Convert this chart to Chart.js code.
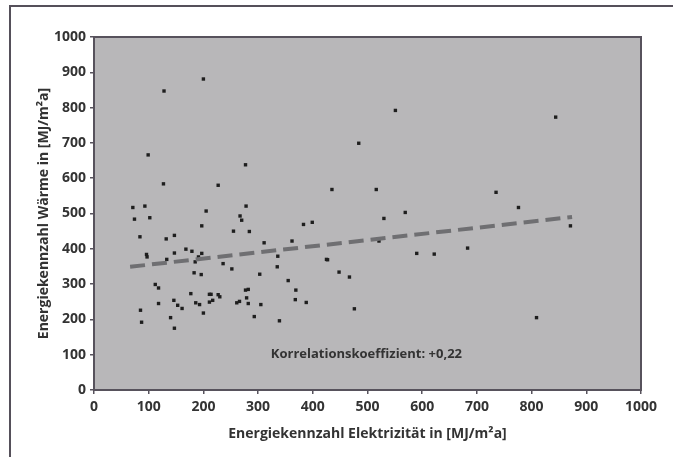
<!DOCTYPE html>
<html>
<head>
<meta charset="utf-8">
<script src="https://cdn.jsdelivr.net/npm/chart.js@4.4.1/dist/chart.umd.min.js"></script>
<style>
  html, body { margin: 0; padding: 0; background: #ffffff; }
  #wrap { width: 673px; height: 457px; position: relative; }
</style>
</head>
<body>
<div id="wrap"><canvas id="c" width="673" height="457"></canvas></div>
<script>
// Energiekennzahl Elektrizität [MJ/m²a]
const elecX = [200,128,99,277,127,227,71,93,278,74,102,205,267,270,197,84,132,147,255,284,
  311,168,179,147,197,96,97,133,191,185,336,236,252,335,183,196,303,112,118,355,
  177,211,214,227,230,277,282,279,146,118,153,161,186,193,211,217,261,266,282,305,
  85,200,140,87,293,147,339,362,369,368,388,383,399,425,427,448,467,476,521,530,
  569,590,622,683,551,484,435,516,844,735,776,871,809];
// Energiekennzahl Wärme [MJ/m²a]
const heatY = [881,847,666,638,584,580,517,521,521,484,488,507,493,481,465,434,428,438,450,449,
  417,399,393,388,387,384,377,370,377,363,379,358,343,349,332,327,328,299,289,310,
  273,271,271,270,264,283,285,261,254,245,240,231,247,242,249,254,247,251,245,242,
  226,218,205,192,208,175,196,422,283,256,248,469,475,370,369,334,320,230,422,486,
  503,387,385,402,792,699,568,568,773,560,517,465,205];
// Regression line end points
const trendX = [66, 874];
const trendY = [349, 490];
// Axis ticks
const tickValues = [0,100,200,300,400,500,600,700,800,900,1000];
const annotationText = 'Korrelationskoeffizient: +0,22';

const FONT = '"Open Sans", "DejaVu Sans", sans-serif';
const points = elecX.map((x, i) => ({ x: x, y: heatY[i] }));
const trend = trendX.map((x, i) => ({ x: x, y: trendY[i] }));

const framePlugin = {
  id: 'frame',
  beforeDraw(chart) {
    const { ctx, chartArea: a } = chart;
    ctx.save();
    ctx.fillStyle = '#ffffff';
    ctx.fillRect(0, 0, chart.width, chart.height);
    // outer frame
    ctx.strokeStyle = '#55505a';
    ctx.lineWidth = 2;
    ctx.beginPath();
    ctx.moveTo(10, chart.height + 2);
    ctx.lineTo(10, 6);
    ctx.lineTo(chart.width + 2, 6);
    ctx.stroke();
    // plot background
    ctx.fillStyle = '#b8b7b9';
    ctx.fillRect(a.left, a.top, a.right - a.left, a.bottom - a.top);
    ctx.restore();
  },
  afterDatasetsDraw(chart) {
    const { ctx, chartArea: a, scales } = chart;
    ctx.save();
    ctx.strokeStyle = '#57525c';
    ctx.lineWidth = 2;
    ctx.strokeRect(a.left, a.top, a.right - a.left, a.bottom - a.top);
    ctx.fillStyle = '#333333';
    ctx.font = 'bold 13px ' + FONT;
    ctx.textAlign = 'center';
    ctx.textBaseline = 'middle';
    ctx.fillText(annotationText, scales.x.getPixelForValue(498), scales.y.getPixelForValue(100));
    ctx.restore();
  }
};

new Chart(document.getElementById('c'), {
  type: 'scatter',
  data: {
    datasets: [
      {
        label: 'Gebäude',
        data: points,
        pointStyle: 'rect',
        pointRadius: 2.4,
        pointHoverRadius: 2.4,
        backgroundColor: '#1e1e1e',
        borderColor: '#1e1e1e',
        borderWidth: 0,
        order: 2
      },
      {
        label: 'Trend',
        data: trend,
        showLine: true,
        pointRadius: 0,
        borderColor: '#6f6f72',
        borderWidth: 4,
        borderDash: [15, 7],
        fill: false,
        order: 1
      }
    ]
  },
  options: {
    responsive: false,
    animation: false,
    events: [],
    layout: { padding: { top: 37, right: 32, left: 0, bottom: 0 } },
    plugins: { legend: { display: false }, tooltip: { enabled: false } },
    scales: {
      x: {
        type: 'linear', min: 0, max: 1000,
        afterBuildTicks(s) { s.ticks = tickValues.map(v => ({ value: v })); },
        afterFit(s) { s.height = 67; },
        grid: { display: true, drawOnChartArea: false, drawTicks: true, tickLength: 4, color: '#57525c', lineWidth: 1.5 },
        border: { display: false },
        ticks: { padding: 5, color: '#333333', font: { family: FONT, size: 14, weight: 'bold' }, maxRotation: 0, autoSkip: false,
                 callback: v => String(v) },
        title: { display: true, text: 'Energiekennzahl Elektrizität in [MJ/m²a]', color: '#333333',
                 font: { family: FONT, size: 14, weight: 'bold' }, padding: { top: 0, bottom: 15 } }
      },
      y: {
        type: 'linear', min: 0, max: 1000,
        afterBuildTicks(s) { s.ticks = tickValues.map(v => ({ value: v })); },
        afterFit(s) { s.width = 94; },
        grid: { display: true, drawOnChartArea: false, drawTicks: true, tickLength: 4, color: '#57525c', lineWidth: 1.5 },
        border: { display: false },
        ticks: { padding: 4, color: '#333333', font: { family: FONT, size: 14, weight: 'bold' }, autoSkip: false,
                 callback: v => String(v) },
        title: { display: true, text: 'Energiekennzahl Wärme in [MJ/m²a]', color: '#333333',
                 font: { family: FONT, size: 14, weight: 'bold' }, padding: { top: 36, bottom: 0 } }
      }
    }
  },
  plugins: [framePlugin]
});
</script>
</body>
</html>
